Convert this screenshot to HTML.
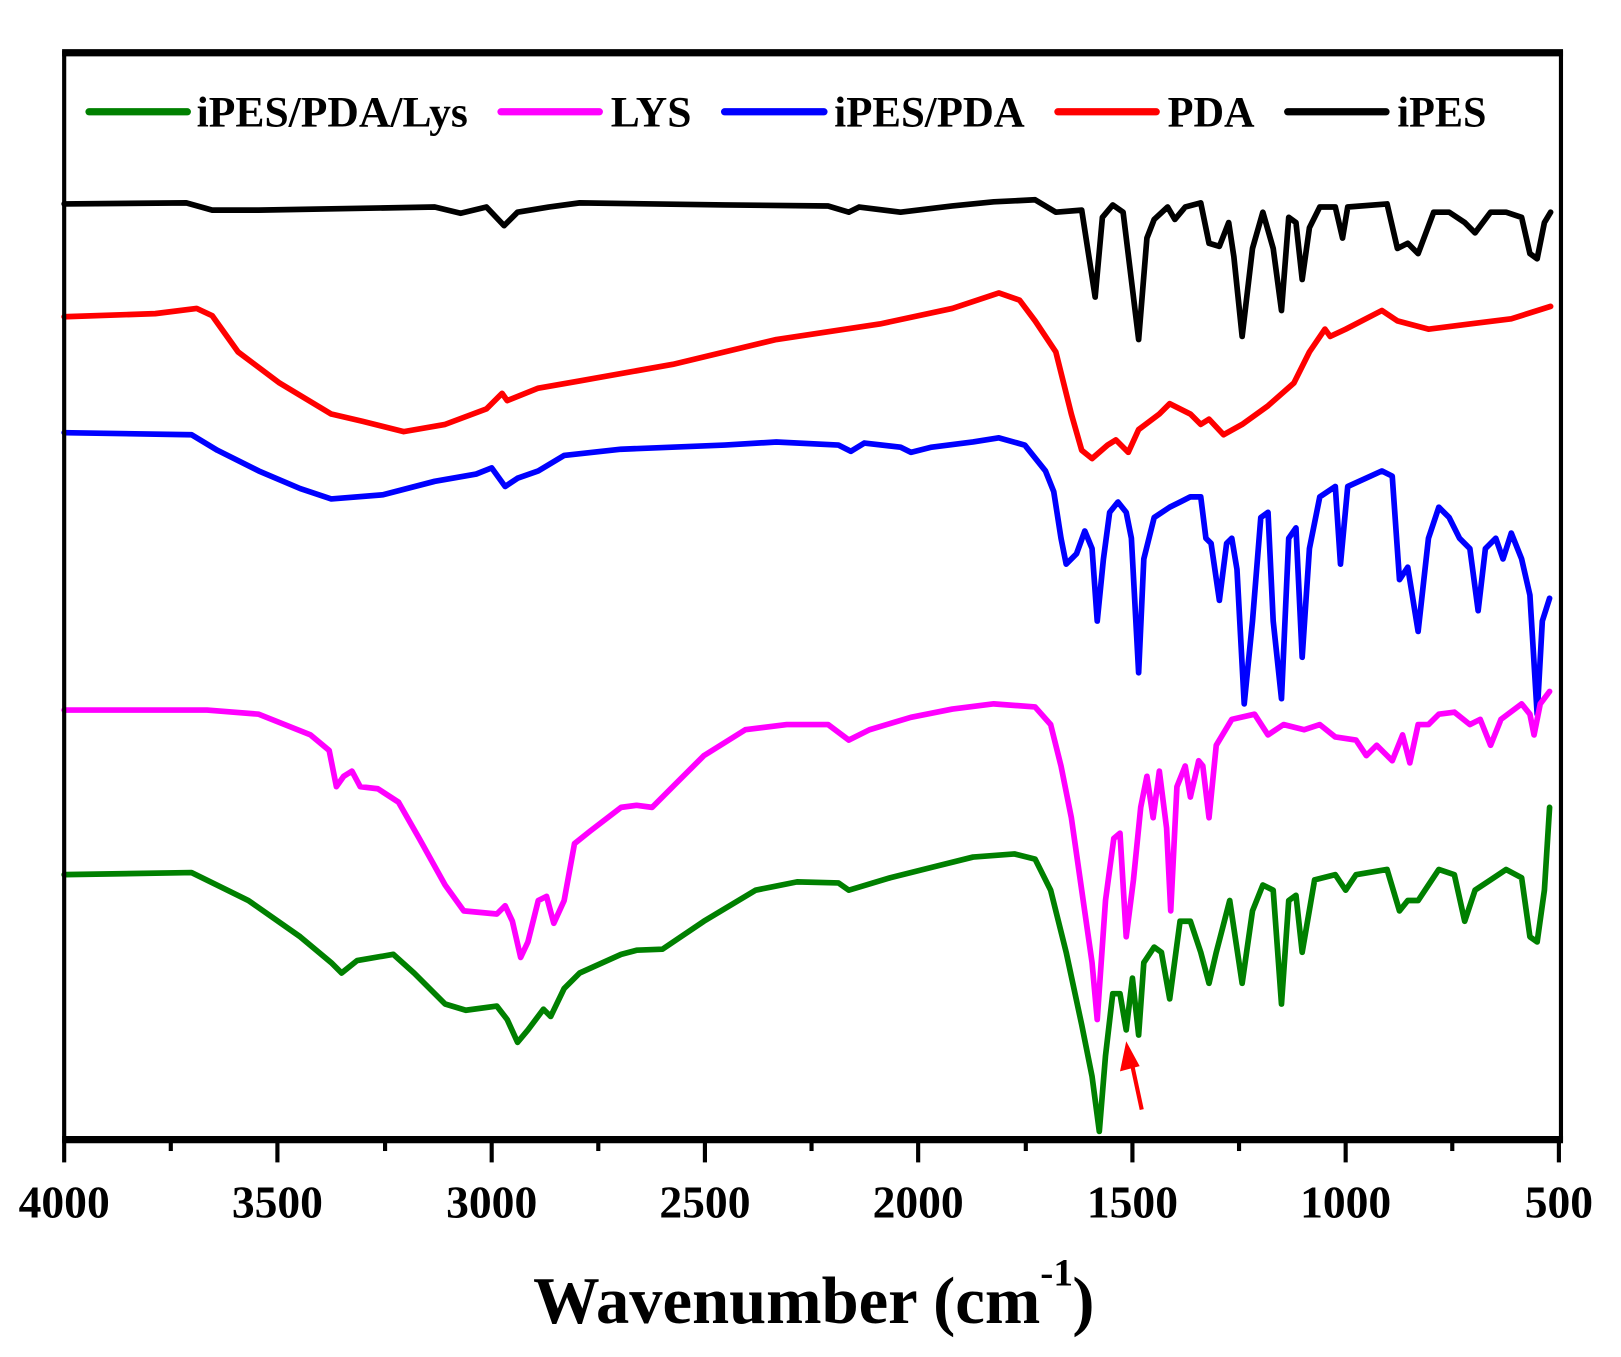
<!DOCTYPE html>
<html><head><meta charset="utf-8"><style>
html,body{margin:0;padding:0;background:#fff;}
svg{display:block;}
text{font-family:"Liberation Serif",serif;font-weight:bold;}
</style></head><body>
<svg width="1621" height="1357" viewBox="0 0 1566 1311" preserveAspectRatio="none" xmlns="http://www.w3.org/2000/svg">
<rect width="1566" height="1311" fill="#fff"/>
<g fill="none" stroke-width="5.5" stroke-linejoin="round" stroke-linecap="round">
<polyline stroke="#000" points="62,197 180,196 205,203 250,203 420,200 445,206 470,200 487,218 500,205 530,200 560,196 700,198 800,199 820,205 830,200 870,205 920,199 960,195 1000,193 1020,205 1045,203 1058,287 1065,210 1075,198 1085,205 1100,328 1108,230 1115,212 1128,200 1135,212 1145,200 1160,196 1168,235 1178,238 1187,215 1192,248 1200,325 1210,240 1220,205 1230,240 1238,300 1245,210 1252,215 1258,270 1265,220 1275,200 1290,200 1297,230 1302,200 1340,197 1350,240 1360,235 1370,245 1385,205 1400,205 1415,215 1425,225 1440,205 1455,205 1470,210 1478,245 1485,250 1492,215 1498,205"/>
<polyline stroke="#ff0000" points="62,306 150,303 190,298 205,305 230,340 270,370 320,400 350,407 390,417 430,410 470,395 485,380 490,387 520,375 560,368 650,352 750,328 850,313 920,298 965,283 985,290 1000,310 1020,340 1035,400 1045,435 1055,443 1070,430 1078,425 1090,437 1100,415 1120,400 1130,390 1150,400 1160,410 1168,405 1182,420 1200,410 1225,392 1250,370 1265,340 1280,318 1285,325 1300,318 1335,300 1350,310 1380,318 1420,313 1460,308 1498,296"/>
<polyline stroke="#0000ff" points="62,418 185,420 210,435 250,455 290,472 320,482 370,478 420,465 460,458 475,452 488,470 500,462 520,455 545,440 600,434 700,430 750,427 810,430 822,436 835,428 870,432 880,437 900,432 940,427 965,423 990,430 1010,455 1018,475 1025,520 1030,545 1040,535 1048,513 1055,530 1060,600 1066,540 1072,495 1080,485 1088,495 1093,520 1100,650 1105,540 1115,500 1130,490 1140,485 1150,480 1160,480 1165,520 1170,525 1178,580 1185,525 1190,520 1195,550 1202,680 1210,600 1218,500 1225,495 1230,600 1238,675 1245,520 1252,510 1258,635 1265,530 1275,480 1290,470 1295,545 1302,470 1335,455 1345,460 1352,560 1360,548 1370,610 1380,520 1390,490 1400,500 1410,520 1420,530 1428,590 1435,530 1445,520 1452,540 1460,515 1470,540 1478,575 1485,690 1490,600 1497,578"/>
<polyline stroke="#ff00ff" points="62,686 200,686 250,690 300,710 318,725 325,760 332,750 340,745 348,760 365,762 385,775 405,810 430,855 448,880 480,883 488,875 495,890 503,925 510,910 520,870 528,866 535,892 545,870 555,815 570,803 600,780 615,778 630,780 650,760 680,730 720,705 760,700 800,700 820,715 840,705 880,693 920,685 960,680 1000,683 1015,700 1025,740 1035,790 1045,860 1055,930 1060,985 1068,870 1076,810 1082,805 1088,905 1095,850 1102,780 1108,750 1114,790 1120,745 1127,800 1131,880 1137,760 1145,740 1150,770 1158,735 1162,740 1168,790 1175,720 1190,695 1212,690 1225,710 1240,700 1260,705 1275,700 1290,712 1310,715 1320,730 1330,720 1345,735 1355,710 1362,737 1370,700 1380,700 1390,690 1405,688 1420,700 1430,695 1440,720 1450,695 1470,680 1478,690 1482,710 1488,680 1497,668"/>
<polyline stroke="#008000" points="62,845 185,843 240,870 290,905 320,930 330,940 345,928 380,922 400,940 430,970 450,976 480,972 490,985 500,1007 510,995 525,975 532,982 545,955 560,940 600,922 615,918 640,917 680,890 730,860 770,852 810,853 820,860 860,848 900,838 940,828 980,825 1000,830 1015,860 1030,920 1045,990 1055,1040 1062,1093 1068,1020 1075,960 1082,960 1088,995 1094,945 1100,1000 1105,930 1115,915 1122,920 1130,965 1140,890 1150,890 1160,920 1168,950 1175,920 1188,870 1200,950 1210,880 1220,855 1230,860 1238,970 1245,870 1252,865 1258,920 1270,850 1290,845 1300,860 1310,845 1340,840 1352,880 1360,870 1370,870 1380,855 1390,840 1405,845 1415,890 1425,860 1440,850 1455,840 1470,848 1478,905 1485,910 1492,860 1497,780"/>
</g>
<line x1="1103" y1="1072" x2="1094" y2="1030" stroke="#ff0000" stroke-width="4"/>
<polygon points="1088,1006 1082,1035 1101,1030" fill="#ff0000"/>
<rect x="62" y="51" width="1446" height="1050" fill="none" stroke="#000" stroke-width="4"/>
<line x1="60" y1="51" x2="1510" y2="51" stroke="#000" stroke-width="7"/>
<line x1="60" y1="1101" x2="1510" y2="1101" stroke="#000" stroke-width="7"/>
<g stroke="#000" stroke-width="4">
<line x1="62" y1="1101" x2="62" y2="1123"/><line x1="268" y1="1101" x2="268" y2="1123"/><line x1="475" y1="1101" x2="475" y2="1123"/><line x1="681" y1="1101" x2="681" y2="1123"/><line x1="887" y1="1101" x2="887" y2="1123"/><line x1="1094" y1="1101" x2="1094" y2="1123"/><line x1="1300" y1="1101" x2="1300" y2="1123"/><line x1="1506" y1="1101" x2="1506" y2="1123"/>
<line x1="165" y1="1101" x2="165" y2="1112"/><line x1="372" y1="1101" x2="372" y2="1112"/><line x1="578" y1="1101" x2="578" y2="1112"/><line x1="784" y1="1101" x2="784" y2="1112"/><line x1="991" y1="1101" x2="991" y2="1112"/><line x1="1197" y1="1101" x2="1197" y2="1112"/><line x1="1403" y1="1101" x2="1403" y2="1112"/>
</g>
<g font-size="44" text-anchor="middle" lengthAdjust="spacingAndGlyphs">
<text x="62" y="1176" textLength="88" lengthAdjust="spacingAndGlyphs">4000</text><text x="268" y="1176" textLength="88" lengthAdjust="spacingAndGlyphs">3500</text><text x="475" y="1176" textLength="88" lengthAdjust="spacingAndGlyphs">3000</text><text x="681" y="1176" textLength="88" lengthAdjust="spacingAndGlyphs">2500</text><text x="887" y="1176" textLength="88" lengthAdjust="spacingAndGlyphs">2000</text><text x="1094" y="1176" textLength="88" lengthAdjust="spacingAndGlyphs">1500</text><text x="1300" y="1176" textLength="88" lengthAdjust="spacingAndGlyphs">1000</text><text x="1506" y="1176" textLength="66" lengthAdjust="spacingAndGlyphs">500</text>
</g>
<text x="515" y="1278" font-size="64" textLength="490" lengthAdjust="spacingAndGlyphs">Wavenumber (cm</text>
<text x="1005" y="1242" font-size="38">-1</text>
<text x="1036" y="1278" font-size="64">)</text>
<g stroke-width="7" stroke-linecap="round">
<line x1="86" y1="108" x2="181" y2="108" stroke="#008000"/>
<line x1="484" y1="108" x2="579" y2="108" stroke="#ff00ff"/>
<line x1="700" y1="108" x2="796" y2="108" stroke="#0000ff"/>
<line x1="1022" y1="108" x2="1117" y2="108" stroke="#ff0000"/>
<line x1="1244" y1="108" x2="1339" y2="108" stroke="#000"/>
</g>
<g font-size="42">
<text x="190" y="122" textLength="262" lengthAdjust="spacingAndGlyphs">iPES/PDA/Lys</text>
<text x="590" y="122" textLength="78" lengthAdjust="spacingAndGlyphs">LYS</text>
<text x="806" y="122" textLength="184" lengthAdjust="spacingAndGlyphs">iPES/PDA</text>
<text x="1128" y="122" textLength="84" lengthAdjust="spacingAndGlyphs">PDA</text>
<text x="1350" y="122" textLength="86" lengthAdjust="spacingAndGlyphs">iPES</text>
</g>
</svg>
</body></html>
